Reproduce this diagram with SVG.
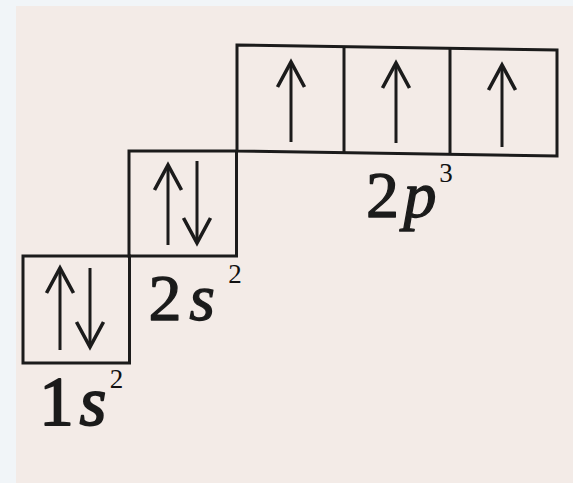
<svg xmlns="http://www.w3.org/2000/svg" width="573" height="483" viewBox="0 0 573 483">
  <style>
    .box { fill: none; stroke: #1b1b1b; stroke-width: 3; stroke-linejoin: miter; }
    .arrow { fill: none; stroke: #1b1b1b; stroke-width: 3; marker-end: url(#head); }
    .lbl { font-family: 'Liberation Serif', 'Times New Roman', serif; font-size: 66px; fill: #1b1b1b; stroke: #1b1b1b; stroke-width: 1.3px; stroke-linejoin: round; text-anchor: middle; }
    .big { font-size: 69px; stroke-width: 1.8px; }
    .it { font-style: italic; }
    .sup { font-family: 'Liberation Serif', 'Times New Roman', serif; font-size: 27px; fill: #111; text-anchor: middle; }
  </style>
  <defs>
    <marker id="head" markerUnits="userSpaceOnUse" viewBox="-30 -17 34 34" refX="0" refY="0" markerWidth="34" markerHeight="34" orient="auto">
      <path d="M-25,-13.5 L0,0 L-25,13.5" fill="none" stroke="#1b1b1b" stroke-width="3.6" stroke-linejoin="miter"/>
    </marker>
  </defs>

  <!-- background -->
  <rect x="0" y="0" width="573" height="483" fill="#f1f5f8"/>
  <rect x="16" y="6" width="557" height="477" fill="#f3ebe7"/>

  <g id="orbital-1s">
    <rect class="box" x="23" y="256" width="106.5" height="107"/>
    <path class="arrow" d="M60,350 L60,268"/>
    <path class="arrow" d="M90,268 L90,347"/>
    <text class="lbl big" x="56.5" y="425">1</text>
    <text class="lbl big it" x="93" y="425">s</text>
    <text class="sup" x="116.5" y="388">2</text>
  </g>

  <g id="orbital-2s">
    <rect class="box" x="129" y="151" width="107.5" height="105"/>
    <path class="arrow" d="M168,245 L168,165"/>
    <path class="arrow" d="M197,161 L197,243"/>
    <text class="lbl" x="165" y="320">2</text>
    <text class="lbl it" x="202" y="320">s</text>
    <text class="sup" x="235" y="283">2</text>
  </g>

  <g id="orbital-2p">
    <path class="box" d="M237,45 L557,50 L557,156 L237,151 Z"/>
    <path class="box" d="M344,46.7 L344,152.7"/>
    <path class="box" d="M450,48.3 L450,154.3"/>
    <path class="arrow" d="M291,142 L291,62"/>
    <path class="arrow" d="M396,143 L396,63"/>
    <path class="arrow" d="M502,147 L502,65"/>
    <text class="lbl" x="382.5" y="217">2</text>
    <text class="lbl it" x="420" y="217">p</text>
    <text class="sup" x="446" y="182">3</text>
  </g>

  <g id="connectors"/>
</svg>
